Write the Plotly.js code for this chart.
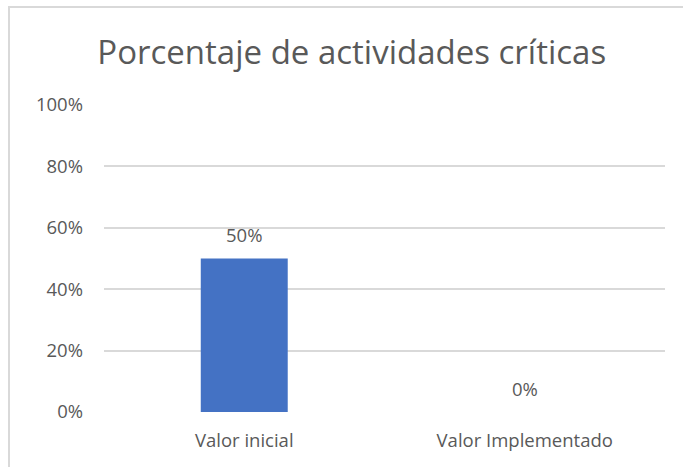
<!DOCTYPE html>
<html>
<head>
<meta charset="utf-8">
<script src="https://cdn.plot.ly/plotly-3.0.1.min.js"></script>
<style>
html,body{margin:0;padding:0;background:#fff;}
#chart{position:absolute;left:0;top:0;width:683px;height:467px;}
#frame{position:absolute;left:8px;top:6px;width:700px;height:480px;border-left:2px solid #d9d9d9;border-top:2px solid #d9d9d9;pointer-events:none;}
</style>
</head>
<body>
<div id="chart"></div>
<div id="frame"></div>
<script>
var categories = ["Valor inicial", "Valor Implementado"];
var values = [0.5, 0];
var labels = ["50%", "0%"];
var titleText = "Porcentaje de actividades críticas";
var tickVals = [0, 0.2, 0.4, 0.6, 0.8, 1.0];
var tickText = ["0%", "20%", "40%", "60%", "80%", "100%"];

var font = "Open Sans, sans-serif";
var gray = "#595959";
var trace = {
  type: "bar",
  x: categories,
  y: values,
  marker: {color: "#4472C4"},
  width: 0.31,
  hoverinfo: "none"
};
var annotations = categories.map(function (c, i) {
  return {x: c, y: values[i], xref: "x", yref: "y", text: labels[i], showarrow: false,
          yanchor: "middle", yshift: 24, font: {family: font, size: 18.5, color: gray}};
});
var layout = {
  width: 683, height: 467,
  margin: {l: 104, r: 18, t: 105, b: 55},
  paper_bgcolor: "#fff", plot_bgcolor: "#fff",
  title: {text: titleText, x: 0.515, xanchor: "center", y: 0.888, yanchor: "middle",
          font: {family: font, size: 33, color: gray}},
  xaxis: {tickfont: {family: font, size: 18.5, color: gray}, showline: false, ticks: "", showgrid: false,
          ticklabelstandoff: 15},
  yaxis: {range: [0, 1.0], tickvals: tickVals, ticktext: tickText,
          tickfont: {family: font, size: 18.5, color: gray},
          showgrid: true, gridcolor: "#d9d9d9", gridwidth: 2, zeroline: false, showline: false, ticks: "",
          ticklabelstandoff: 20},
  annotations: annotations,
  showlegend: false
};
Plotly.newPlot("chart", [trace], layout, {displayModeBar: false, staticPlot: true});
</script>
</body>
</html>
